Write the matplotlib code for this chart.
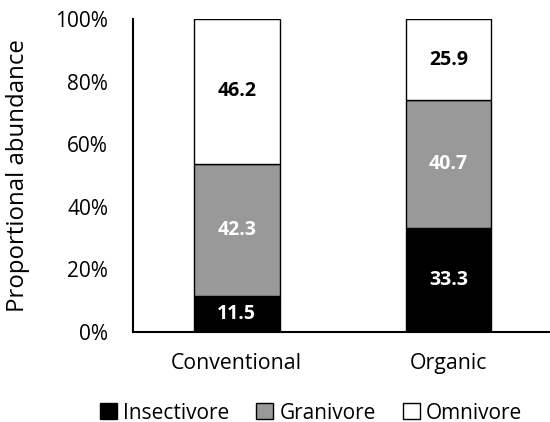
import matplotlib.pyplot as plt
import numpy as np

plt.rcParams['font.family'] = ['Open Sans', 'DejaVu Sans']

systems = ['Conventional', 'Organic']
insectivore = [11.5, 33.3]
granivore = [42.3, 40.7]
omnivore = [46.2, 25.9]

groups = [('Insectivore', insectivore, '#000000', 'white'),
          ('Granivore', granivore, '#999999', 'white'),
          ('Omnivore', omnivore, '#ffffff', 'black')]

fig = plt.figure(figsize=(5.5, 4.22), dpi=100)
ax = fig.add_axes([0.242, 0.213, 0.758, 0.742])

x = np.arange(len(systems))
bottom = np.zeros(len(systems))
for name, vals, color, tcolor in groups:
    vals = np.array(vals)
    bars = ax.bar(x, vals, 0.405, bottom=bottom, color=color, edgecolor='black',
                  linewidth=1, label=name)
    for b, v, b0 in zip(bars, vals, bottom):
        ax.text(b.get_x() + b.get_width() / 2, b0 + v / 2, f'{v:.1f}',
                ha='center', va='center', color=tcolor, fontsize=14, fontweight='bold')
    bottom += vals

ax.set_xlim(-0.49, 1.48)
ax.set_ylim(0, 100)
ax.set_yticks(range(0, 101, 20))
ax.set_yticklabels([f'{t}%' for t in range(0, 101, 20)], fontsize=15)
ax.set_xticks(x)
ax.set_xticklabels(systems, fontsize=15.3)
ax.tick_params(length=0, pad=18)
ax.tick_params(axis='x', pad=15)
ax.set_ylabel('Proportional abundance', fontsize=17.3, labelpad=18)

for s in ['top', 'right']:
    ax.spines[s].set_visible(False)
for s in ['left', 'bottom']:
    ax.spines[s].set_linewidth(1.5)

ax.legend(loc='upper center', bbox_to_anchor=(0.427, -0.165), ncol=3, frameon=False,
          fontsize=15, handlelength=0.8, handleheight=0.8, handletextpad=0.3,
          columnspacing=1.3)

fig.savefig('out.png', dpi=100)
